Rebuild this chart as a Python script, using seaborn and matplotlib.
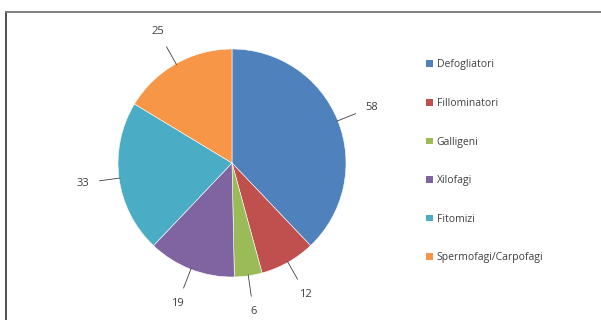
import numpy as np
import seaborn as sns
import matplotlib.pyplot as plt
from matplotlib.patches import Patch
from matplotlib.lines import Line2D

sns.set_theme(style="white")
plt.rcParams['font.family'] = ['Open Sans', 'DejaVu Sans']

# data
categories = ['Defogliatori', 'Fillominatori', 'Galligeni',
              'Xilofagi', 'Fitomizi', 'Spermofagi/Carpofagi']
values = [58, 12, 6, 19, 33, 25]
colors = ['#4F81BD', '#C0504D', '#9BBB59', '#8064A2', '#4BACC6', '#F79646']

fig = plt.figure(figsize=(6.01, 3.2), dpi=100)
# square axes centred on the pie, radius ~114 px
k = 1.5
side = 2 * 114 * k
cx, cy = 232, 320 - 163
ax = fig.add_axes([(cx - side / 2) / 601, (cy - side / 2) / 320, side / 601, side / 320])

wedges, _ = ax.pie(values, colors=colors, startangle=90, counterclock=False,
                   wedgeprops=dict(linewidth=0.4, edgecolor='white'))
ax.set_xlim(-k, k)
ax.set_ylim(-k, k)
ax.set_aspect('equal')
ax.axis('off')

# value labels with leader lines
for w, v in zip(wedges, values):
    ang = np.deg2rad((w.theta1 + w.theta2) / 2)
    x0, y0 = np.cos(ang), np.sin(ang)
    ax.annotate(str(v), xy=(x0 * 0.99, y0 * 0.99), xytext=(x0 * 1.32, y0 * 1.32),
                ha='center', va='center', fontsize=8, color='#404040',
                arrowprops=dict(arrowstyle='-', color='#404040', lw=0.6,
                                shrinkA=5, shrinkB=0),
                annotation_clip=False)

handles = [Patch(facecolor=c, edgecolor='none') for c in colors]
fig.legend(handles, categories, loc='upper left', bbox_to_anchor=(417 / 601, 1 - 50 / 320),
           frameon=False, fontsize=7.5, handlelength=0.6, handleheight=0.6,
           handletextpad=0.4, labelspacing=2.65, labelcolor='#404040')

# chart frame (top and left edges visible)
fig.add_artist(Line2D([6 / 601, 6 / 601], [0, 1 - 12 / 320], color='#505050', lw=1.4))
fig.add_artist(Line2D([6 / 601, 1], [1 - 12 / 320, 1 - 12 / 320], color='#808080', lw=1.4))

fig.savefig('out.png', dpi=100)
